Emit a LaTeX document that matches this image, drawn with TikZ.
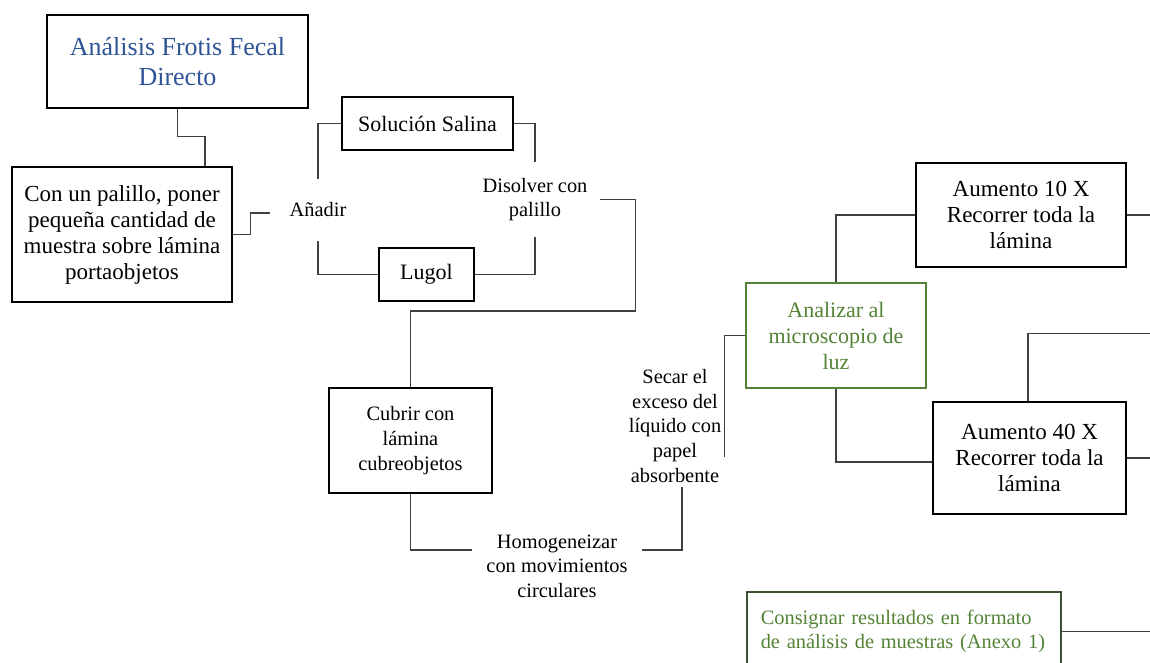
\documentclass[tikz,border=0pt]{standalone}
\usepackage{fontspec}
\setmainfont{Liberation Serif}
\usepackage{tikz}
\usetikzlibrary{positioning,calc}
\usepackage{xcolor}
\definecolor{titleblue}{RGB}{47,84,150}
\definecolor{leafgreen}{RGB}{84,130,53}
\definecolor{darkgreen}{RGB}{60,80,50}
\newcommand{\titlef}{\fontsize{13}{15}\selectfont}
\newcommand{\bodyf}{\fontsize{11.5}{13}\selectfont}
\newcommand{\midf}{\fontsize{11}{13}\selectfont}
\newcommand{\smallf}{\fontsize{10.2}{12.3}\selectfont}

\begin{document}
\begin{tikzpicture}[x=0.5pt,y=-0.5pt]
\tikzstyle{n}=[draw,line width=.75pt,align=center,inner sep=0pt,font=\bodyf]
\tikzstyle{t}=[align=center,inner sep=0pt,font=\smallf]
\tikzstyle{ln}=[draw=black!75,line width=.55pt]
\useasboundingbox (0,0) rectangle (1150,663);
% boxes
\node[n,minimum width=130.5pt,minimum height=46.5pt,text=titleblue,font=\titlef] (title) at (177.5,61.5) {Análisis Frotis Fecal\\Directo};
\node[n,minimum width=110pt,minimum height=67.5pt] (muestra) at (122,234.5) {Con un palillo, poner\\pequeña cantidad de\\muestra sobre lámina\\portaobjetos};
\node[t,minimum height=30.5pt] (anadir) at (318,210) {Añadir};
\node[n,font=\midf,minimum width=85.5pt,minimum height=26.5pt] (salina) at (427.5,123.5) {Solución Salina};
\node[n,font=\midf,minimum width=47.5pt,minimum height=26.5pt] (lugol) at (426.5,274.5) {Lugol};
\node[t,minimum width=65pt,minimum height=37.5pt] (disolver) at (535,199.5) {Disolver con\\palillo};
\node[n,font=\smallf,minimum width=81.5pt,minimum height=52.5pt] (cubrir) at (410.5,440.5) {Cubrir con\\lámina\\cubreobjetos};
\node[t,minimum width=85pt] (homog) at (557,566) {Homogeneizar\\con movimientos\\circulares};
\node[t,minimum height=61pt] (secar) at (675,426) {Secar el\\exceso del\\líquido con\\papel\\absorbente};
\node[n,font=\midf,draw=leafgreen,text=leafgreen,minimum width=90pt,minimum height=52.5pt] (analizar) at (836,335.5) {Analizar al\\microscopio de\\luz};
\node[n,minimum width=105pt,minimum height=52pt] (a10) at (1021,215) {Aumento 10 X\\Recorrer toda la\\lámina};
\node[n,minimum width=96.5pt,minimum height=56pt] (a40) at (1029.5,458) {Aumento 40 X\\Recorrer toda la\\lámina};
\node[n,font=\smallf,draw=darkgreen,text=leafgreen,anchor=north west,text width=143pt,align=left,inner xsep=7pt,inner ysep=9pt] (consignar) at (746,591) {Consignar resultados en formato\\de análisis de muestras (Anexo 1)};
% connectors
\draw[ln] (title.south) -- ++(0,28) -| ($(muestra.north)+(83,0)$);
\draw[ln] (muestra.east) -- ++(18,0) |- ($(anadir.west)+(-19,3)$);
\draw[ln] (anadir.north) |- (salina.west);
\draw[ln] (anadir.south) |- (lugol.west);
\draw[ln] (salina.east) -| (disolver.north);
\draw[ln] (lugol.east) -| (disolver.south);
\draw[ln] (disolver.east) -- ++(35,0) -- ++(0,111.5) -| (cubrir.north);
\draw[ln] (cubrir.south) |- ($(homog.west)+(0,-16)$);
\draw[ln] ($(homog.east)+(0,-16)$) -| ($(secar.south)+(7,0)$);
\draw[ln] (analizar.west) -- ++(-21,0) -- ++(0,121);
\draw[ln] (analizar.north) |- (a10.west);
\draw[ln] (analizar.south) |- ($(a40.west)+(0,4)$);
\draw[ln] (a10.east) -- ++(30,0);
\draw[ln] (a40.east) -- ++(30,0);
\draw[ln] ($(a40.north)+(-1.5,0)$) |- ++(125,-68);
\draw[ln] (consignar.east) -- ++(95,0);
\end{tikzpicture}
\end{document}
